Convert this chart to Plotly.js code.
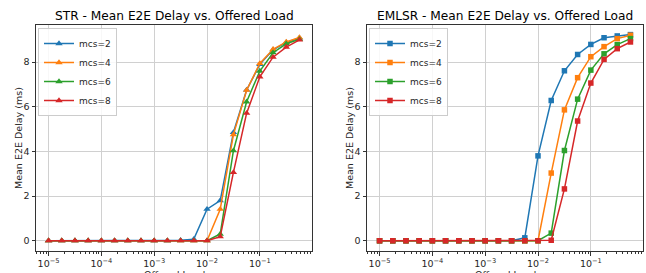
<!DOCTYPE html>
<html>
<head>
<meta charset="utf-8">
<script src="https://cdn.plot.ly/plotly-3.0.1.min.js"></script>
<style>html,body{margin:0;padding:0;background:#fff;}#chart{width:646px;height:273px;}</style>
</head>
<body>
<div id="chart"></div>
<script>
const load = [1e-5, 1.778e-5, 3.162e-5, 5.623e-5, 1e-4, 1.778e-4, 3.162e-4, 5.623e-4,
  1e-3, 1.778e-3, 3.162e-3, 5.623e-3, 1e-2, 1.778e-2, 3.162e-2, 5.623e-2, 0.1, 0.1778, 0.3162, 0.5623];
const mcsLabels = ["mcs=2", "mcs=4", "mcs=6", "mcs=8"];
const strMcs2 = [0,0,0,0,0,0,0,0,0,0,0.02,0.07,1.41,1.80,4.85,6.75,7.90,8.55,8.88,9.08];
const strMcs4 = [0,0,0,0,0,0,0,0,0,0,0,0,0,1.41,4.75,6.74,7.94,8.57,8.90,9.10];
const strMcs6 = [0,0,0,0,0,0,0,0,0,0,0,0,0,0.30,4.03,6.22,7.60,8.42,8.82,9.02];
const strMcs8 = [0,0,0,0,0,0,0,0,0,0,0,0,0,0.18,3.06,5.71,7.34,8.22,8.67,8.99];
const emlsrMcs2 = [0,0,0,0,0,0,0,0,0,0,0,0.13,3.80,6.28,7.61,8.34,8.79,9.09,9.17,9.23];
const emlsrMcs4 = [0,0,0,0,0,0,0,0,0,0,0,0,0,3.03,5.86,7.30,8.24,8.69,9.05,9.20];
const emlsrMcs6 = [0,0,0,0,0,0,0,0,0,0,0,0,0,0.34,4.04,6.34,7.64,8.37,8.78,9.05];
const emlsrMcs8 = [0,0,0,0,0,0,0,0,0,0,0,0,0,0.02,2.32,5.36,7.06,8.12,8.60,8.90];
const xTickVals = [1e-5, 1e-4, 1e-3, 1e-2, 1e-1];
const xTickText = ["10<sup>−5</sup>", "10<sup>−4</sup>", "10<sup>−3</sup>", "10<sup>−2</sup>", "10<sup>−1</sup>"];
const yTickVals = [0, 2, 4, 6, 8];
const titles = ["STR - Mean E2E Delay vs. Offered Load", "EMLSR - Mean E2E Delay vs. Offered Load"];
const xTitle = "Offered Load";
const yTitle = "Mean E2E Delay (ms)";

const colors = ["#1f77b4", "#ff7f0e", "#2ca02c", "#d62728"];
const strSeries = [strMcs2, strMcs4, strMcs6, strMcs8];
const emlsrSeries = [emlsrMcs2, emlsrMcs4, emlsrMcs6, emlsrMcs8];

const minorVals = [];
for (let e = -6; e <= 0; e++) for (let m = 2; m <= 9; m++) minorVals.push(m * Math.pow(10, e));

const traces = [];
strSeries.forEach((s, i) => traces.push({
  x: load, y: s, name: mcsLabels[i], type: "scatter", mode: "lines+markers",
  line: {color: colors[i], width: 1.5}, marker: {symbol: "triangle-up", size: 6.5, color: colors[i]},
  xaxis: "x", yaxis: "y", legend: "legend"
}));
emlsrSeries.forEach((s, i) => traces.push({
  x: load, y: s, name: mcsLabels[i], type: "scatter", mode: "lines+markers",
  line: {color: colors[i], width: 1.5}, marker: {symbol: "square", size: 5.5, color: colors[i]},
  xaxis: "x2", yaxis: "y2", legend: "legend2"
}));

const W = 646, H = 273;
const font = {family: "DejaVu Sans", size: 9.5, color: "#262626"};
function xax(l, r) {
  return {
    type: "log", domain: [l / W, r / W], range: [-5.2375, -0.0125], automargin: false,
    tickmode: "array", tickvals: xTickVals, ticktext: xTickText,
    ticks: "outside", ticklen: 3.5, tickcolor: "#333", tickfont: font,
    showgrid: true, gridcolor: "#d0d0d0", gridwidth: 1,
    showline: true, mirror: true, linecolor: "#333", linewidth: 1, zeroline: false,
    minor: {tickmode: "array", tickvals: minorVals, ticks: "outside", ticklen: 2, tickcolor: "#333", showgrid: false}
  };
}
function yax(anchor) {
  return {
    domain: [(H - 251) / H, (H - 25) / H], range: [-0.46, 9.66], anchor: anchor, automargin: false,
    tickmode: "array", tickvals: yTickVals, ticks: "outside", ticklen: 3.5, tickcolor: "#333", tickfont: font,
    showgrid: true, gridcolor: "#d0d0d0", gridwidth: 1,
    showline: true, mirror: true, linecolor: "#333", linewidth: 1, zeroline: false
  };
}
function leg(l, t) {
  return {x: l / W, y: 1 - t / H, xanchor: "left", yanchor: "top", bgcolor: "rgba(255,255,255,0.85)",
    bordercolor: "#cccccc", borderwidth: 1, font: {family: "DejaVu Sans", size: 9, color: "#262626"},
    tracegroupgap: 0, itemwidth: 30};
}
function ann(text, px, py, size, angle, color) {
  return {text: text, x: px / W, y: 1 - py / H, xref: "paper", yref: "paper", showarrow: false,
    xanchor: "center", yanchor: "middle", textangle: angle,
    font: {family: "DejaVu Sans", size: size, color: color}};
}
const layout = {
  width: W, height: H, margin: {l: 0, r: 0, t: 0, b: 0},
  paper_bgcolor: "#fff", plot_bgcolor: "#fff", showlegend: true,
  xaxis: Object.assign(xax(36, 312), {anchor: "y"}),
  yaxis: yax("x"),
  xaxis2: Object.assign(xax(367, 643), {anchor: "y2"}),
  yaxis2: yax("x2"),
  legend: leg(38, 28),
  legend2: leg(369, 28),
  annotations: [
    ann(titles[0], 174, 16, 12.2, 0, "#000"),
    ann(titles[1], 505, 16, 12.2, 0, "#000"),
    ann(xTitle, 174, 274, 9.5, 0, "#262626"),
    ann(xTitle, 505, 274, 9.5, 0, "#262626"),
    ann(yTitle, 18, 138, 9.5, -90, "#262626"),
    ann(yTitle, 349, 138, 9.5, -90, "#262626")
  ]
};
Plotly.newPlot("chart", traces, layout, {staticPlot: true});
</script>
</body>
</html>
